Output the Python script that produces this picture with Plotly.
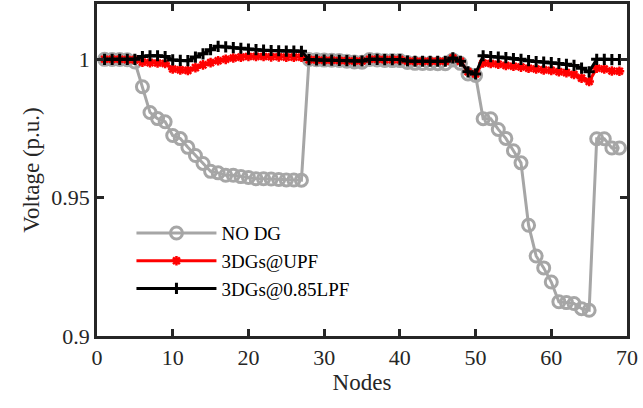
import plotly.graph_objects as go

nodes = list(range(1, 70))

v_nodg = [1.0, 0.99997, 0.99993, 0.99984, 0.99902, 0.99009, 0.98079, 0.97858, 0.97745, 0.97245,
          0.97135, 0.96819, 0.96526, 0.96237, 0.95951, 0.95897, 0.95809, 0.95808, 0.95761, 0.95732,
          0.95683, 0.95683, 0.95676, 0.95660, 0.95643, 0.95636, 0.95634, 0.99993, 0.99985, 0.99973,
          0.99971, 0.99961, 0.99935, 0.99901, 0.99895, 0.99992, 0.99975, 0.99959, 0.99954, 0.99954,
          0.99884, 0.99855, 0.99851, 0.99850, 0.99841, 0.99840, 0.99979, 0.99854, 0.99470, 0.99415,
          0.97855, 0.97855, 0.97466, 0.97142, 0.96695, 0.96258, 0.94004, 0.92893, 0.92461, 0.91951,
          0.91236, 0.91208, 0.91172, 0.90988, 0.90932, 0.97129, 0.97129, 0.96797, 0.96797]

v_upf = [1.0, 1.0, 1.0, 0.9999, 0.9998, 0.9990, 0.9988, 0.9987, 0.9985, 0.9965,
         0.9962, 0.9960, 0.9970, 0.9980, 0.9988, 0.9995, 1.0000, 1.0005, 1.0008, 1.0010,
         1.0010, 1.0010, 1.0009, 1.0009, 1.0008, 1.0008, 1.0008, 0.9999, 0.9998, 0.9997,
         0.9997, 0.9996, 0.9995, 0.9994, 0.9994, 1.0000, 1.0000, 0.9999, 0.9999, 0.9999,
         0.9994, 0.9993, 0.9993, 0.9993, 0.9993, 0.9993, 1.0005, 0.9993, 0.9955, 0.9947,
         0.9987, 0.9985, 0.9982, 0.9978, 0.9975, 0.9972, 0.9968, 0.9965, 0.9962, 0.9960,
         0.9955, 0.9952, 0.9945, 0.9932, 0.9920, 0.9968, 0.9965, 0.9958, 0.9957]

v_lpf = [1.0, 1.0, 1.0, 1.0, 1.0, 1.0010, 1.0013, 1.0013, 1.0010, 0.9998,
         0.9996, 0.9995, 1.0008, 1.0020, 1.0035, 1.0047, 1.0045, 1.0042, 1.0040, 1.0037,
         1.0035, 1.0033, 1.0032, 1.0031, 1.0030, 1.0030, 1.0029, 0.9999, 0.9998, 0.9997,
         0.9997, 0.9996, 0.9995, 0.9994, 0.9994, 1.0000, 1.0000, 0.9999, 0.9999, 0.9999,
         0.9994, 0.9993, 0.9993, 0.9993, 0.9993, 0.9993, 1.0005, 0.9993, 0.9955, 0.9947,
         1.0013, 1.0010, 1.0008, 1.0006, 1.0003, 1.0000, 0.9995, 0.9992, 0.9990, 0.9988,
         0.9985, 0.9982, 0.9978, 0.9968, 0.9955, 1.0000, 1.0000, 0.9999, 0.9999]

x_ticks = [0, 10, 20, 30, 40, 50, 60, 70]
y_ticks = [0.9, 0.95, 1.0]
y_tick_labels = ["0.9", "0.95", "1"]

FONT = "Liberation Serif"

fig = go.Figure()
fig.add_trace(go.Scatter(
    x=nodes, y=v_nodg, name="NO DG", mode="lines+markers",
    line=dict(color="#a6a6a6", width=3),
    marker=dict(symbol="circle-open", size=12, color="#a6a6a6", line=dict(width=3, color="#a6a6a6")),
))
fig.add_trace(go.Scatter(
    x=nodes, y=v_upf, name="3DGs@UPF", mode="lines+markers",
    line=dict(color="#ff0000", width=3),
    marker=dict(symbol="asterisk-open", size=8, color="#ff0000", line=dict(width=2.5, color="#ff0000")),
))
fig.add_trace(go.Scatter(
    x=nodes, y=v_lpf, name="3DGs@0.85LPF", mode="lines+markers",
    line=dict(color="#000000", width=3),
    marker=dict(symbol="cross-thin-open", size=8, color="#000000", line=dict(width=3, color="#000000")),
))

axis_common = dict(
    showline=True, linecolor="#262626", linewidth=2.5, mirror="ticks",
    ticks="inside", ticklen=7, tickwidth=2.5, tickcolor="#262626",
    showgrid=False, zeroline=False,
    tickfont=dict(family=FONT, size=22, color="#262626"),
)

fig.update_layout(
    width=643, height=408,
    margin=dict(l=97, r=16, t=1, b=72),
    paper_bgcolor="white", plot_bgcolor="white",
    font=dict(family=FONT, color="#262626"),
    xaxis=dict(range=[0, 70], tickvals=x_ticks,
               title=dict(text="Nodes", font=dict(family=FONT, size=23, color="#262626"), standoff=2),
               **axis_common),
    yaxis=dict(range=[0.9, 1.02], tickvals=y_ticks, ticktext=y_tick_labels,
               title=dict(text="Voltage (p.u.)", font=dict(family=FONT, size=23, color="#262626"), standoff=6),
               **axis_common),
    legend=dict(x=0.065, y=0.367, xanchor="left", yanchor="top",
                bgcolor="rgba(0,0,0,0)", borderwidth=0,
                font=dict(family=FONT, size=19, color="#000000"),
                itemwidth=80, tracegroupgap=0),
    showlegend=True,
)

fig.write_html("out.html")
